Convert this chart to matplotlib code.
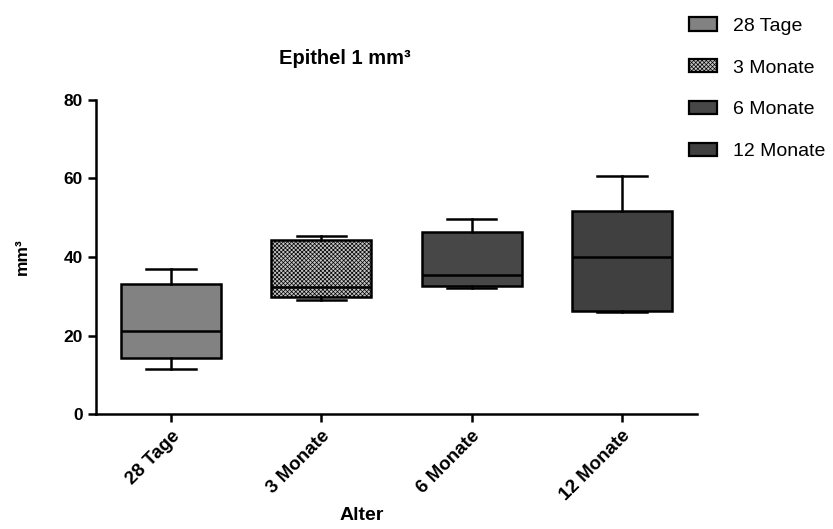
import matplotlib.pyplot as plt
from matplotlib.patches import Patch

plt.rcParams['font.family'] = ['Liberation Sans', 'DejaVu Sans']
plt.rcParams['hatch.linewidth'] = 0.5
plt.rcParams['hatch.color'] = '#303030'

# values
groups = ['28 Tage', '3 Monate', '6 Monate', '12 Monate']
whisk_lo = [11.5, 29.0, 32.1, 26.0]
q1 = [14.3, 29.8, 32.6, 26.2]
median = [21.1, 32.4, 35.4, 40.0]
q3 = [33.1, 44.3, 46.4, 51.7]
whisk_hi = [36.9, 45.3, 49.7, 60.6]
colors = ['#828282', '#c4c4c4', '#474747', '#404040']
hatches = [None, 'xxxxxxxx', None, None]

stats = []
for i, g in enumerate(groups):
    stats.append({'label': g, 'whislo': whisk_lo[i], 'q1': q1[i], 'med': median[i],
                  'q3': q3[i], 'whishi': whisk_hi[i], 'fliers': []})

fig = plt.figure(figsize=(8.33, 5.29), dpi=100)
ax = fig.add_axes([96/833, 1-414/529, (697-96)/833, (414-100)/529])

lw = 1.8
bp = ax.bxp(stats, positions=range(len(groups)), widths=0.667, patch_artist=True,
            showfliers=False,
            boxprops=dict(linewidth=lw, edgecolor='black'),
            medianprops=dict(color='black', linewidth=lw),
            whiskerprops=dict(color='black', linewidth=lw),
            capprops=dict(color='black', linewidth=lw),
            capwidths=0.33)
for box, c, h in zip(bp['boxes'], colors, hatches):
    box.set_facecolor(c)
    if h:
        box.set_hatch(h)

ax.set_xlim(-0.5, 3.5)
ax.set_ylim(0, 80)
ax.set_yticks([0, 20, 40, 60, 80])
ax.spines['top'].set_visible(False)
ax.spines['right'].set_visible(False)
ax.spines['left'].set_linewidth(1.8)
ax.spines['bottom'].set_linewidth(1.8)
ax.tick_params(width=1.8, length=6)
ax.set_xticks(range(len(groups)))
ax.set_xticklabels(groups, rotation=45, ha='right', rotation_mode='anchor',
                   fontweight='bold', fontsize=13.5)
for t in ax.get_yticklabels():
    t.set_fontweight('bold')
    t.set_fontsize(12.5)

fig.text(345/833, 1-59/529, 'Epithel 1 mm³', ha='center', va='center',
         fontsize=14.5, fontweight='bold')
fig.text(22/833, 1-257/529, 'mm³', rotation=90, ha='center', va='center',
         fontsize=12.5, fontweight='bold')
fig.text(362/833, 1-515/529, 'Alter', ha='center', va='center',
         fontsize=14, fontweight='bold')

handles = []
for g, c, h in zip(groups, colors, hatches):
    handles.append(Patch(facecolor=c, edgecolor='black', hatch=h, linewidth=1.6, label=g))
fig.legend(handles=handles, loc='upper left', bbox_to_anchor=(671/833, 1-0/529),
           frameon=False, fontsize=14, handlelength=1.45, handleheight=0.67,
           labelspacing=1.25, handletextpad=0.82)

fig.savefig('out.png', dpi=100)
